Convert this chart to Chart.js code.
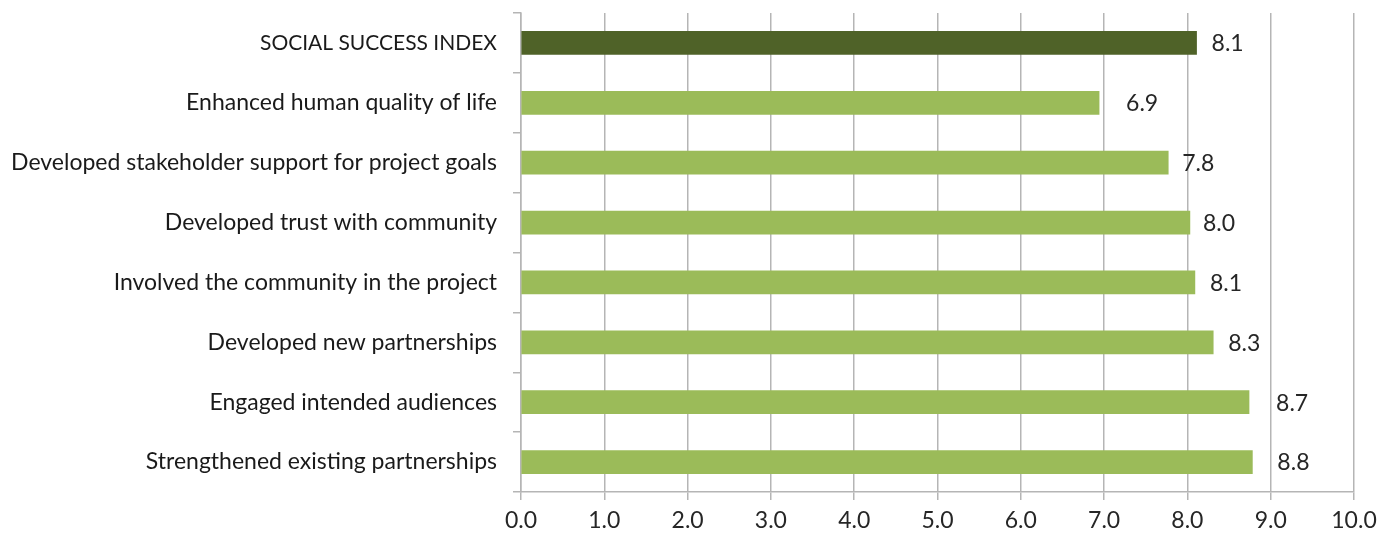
<!DOCTYPE html>
<html>
<head>
<meta charset="utf-8">
<script src="https://cdn.jsdelivr.net/npm/chart.js@4/dist/chart.umd.min.js"></script>
<style>
  body { margin: 0; background: #fff; }
  #wrap { width: 1392px; height: 537px; }
</style>
</head>
<body>
<div id="wrap"><canvas id="bars" width="1392" height="537"></canvas></div>
<script>
const categories = [
  "SOCIAL SUCCESS INDEX",
  "Enhanced human quality of life",
  "Developed stakeholder support for project goals",
  "Developed trust with community",
  "Involved the community in the project",
  "Developed new partnerships",
  "Engaged intended audiences",
  "Strengthened existing partnerships"
];
const scores = [8.11, 6.94, 7.77, 8.03, 8.09, 8.31, 8.74, 8.78];
const barColors = ["#4f6228", "#9bbb59", "#9bbb59", "#9bbb59", "#9bbb59", "#9bbb59", "#9bbb59", "#9bbb59"];
const xTicks = [0, 1, 2, 3, 4, 5, 6, 7, 8, 9, 10];

const FONT = "Lato";
const gridGray = "#b5b5b5";
// a few labels sit a bit further out from their bar
const labelGap = [15, 27, 14, 13, 15, 15, 27, 25];

// writes the score just past the end of each bar
const valueLabels = {
  id: "valueLabels",
  afterDatasetsDraw(chart) {
    const ctx = chart.ctx;
    const meta = chart.getDatasetMeta(0);
    ctx.save();
    ctx.font = "23px " + FONT;
    ctx.fillStyle = "#262626";
    ctx.textAlign = "left";
    ctx.textBaseline = "middle";
    meta.data.forEach((bar, i) => {
      ctx.fillText(scores[i].toFixed(1), bar.x + labelGap[i], bar.y + 1);
    });
    ctx.restore();
  }
};

new Chart(document.getElementById("bars"), {
  type: "bar",
  data: {
    labels: categories,
    datasets: [{
      data: scores,
      backgroundColor: barColors,
      barThickness: 23
    }]
  },
  options: {
    indexAxis: "y",
    responsive: false,
    animation: false,
    layout: { padding: { top: 13, right: 38, left: 0, bottom: 0 } },
    plugins: { legend: { display: false }, tooltip: { enabled: false } },
    scales: {
      x: {
        min: 0,
        max: 10,
        afterBuildTicks(scale) {
          scale.ticks = xTicks.map(v => ({ value: v }));
        },
        afterFit(scale) { scale.height = 45; },
        grid: { color: gridGray, lineWidth: 1.5, tickLength: 8 },
        border: { color: gridGray, width: 1.5 },
        ticks: {
          color: "#262626",
          font: { family: FONT, size: 23 },
          padding: 7,
          maxRotation: 0,
          callback: v => Number(v).toFixed(1)
        }
      },
      y: {
        afterFit(scale) {
          scale.width = 521;
          scale.paddingTop = 0;
          scale.paddingBottom = 0;
        },
        grid: { offset: true, drawOnChartArea: false, color: gridGray, lineWidth: 1.5, tickLength: 8 },
        border: { color: gridGray, width: 1.5 },
        ticks: {
          color: "#1a1a1a",
          // the all-caps index label is set a touch smaller
          font: c => ({ family: FONT, size: c.index === 0 ? 21 : 23 }),
          padding: 16
        }
      }
    }
  },
  plugins: [valueLabels]
});
</script>
</body>
</html>
